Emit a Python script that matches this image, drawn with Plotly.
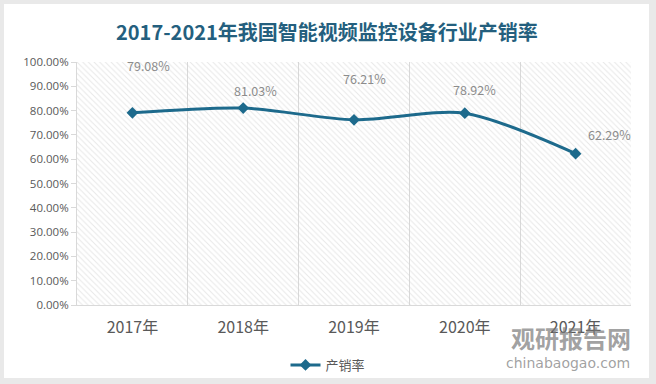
import plotly.graph_objects as go

years = ["2017年", "2018年", "2019年", "2020年", "2021年"]
rate = [79.08, 81.03, 76.21, 78.92, 62.29]
series_name = "产销率"
title_text = "2017-2021年我国智能视频监控设备行业产销率"

# label offsets (pixels) per point
label_dx = [16, 12, 10, 10, 34]
label_dy = [47, 18, 41, 24, 19]

LINE = "#1d6a8c"
FONT = "Noto Sans CJK SC"

fig = go.Figure()

# hatched plot-area background (transparent bars spanning full height)
fig.add_trace(go.Bar(
    x=years, y=[100] * len(years), width=1,
    marker=dict(color="rgba(0,0,0,0)", line=dict(width=0),
                pattern=dict(shape="\\", fgcolor="#d0d0d0", bgcolor="rgba(0,0,0,0)",
                             size=4, solidity=0.25)),
    showlegend=False, hoverinfo="skip"))

fig.add_trace(go.Scatter(
    x=years, y=rate, name=series_name, mode="lines+markers",
    line=dict(color=LINE, width=3, shape="spline", smoothing=0.8),
    marker=dict(symbol="diamond", size=9, color=LINE)))

for yr, v, dx, dy in zip(years, rate, label_dx, label_dy):
    fig.add_annotation(x=yr, y=v, text=f"{v:.2f}%", showarrow=False,
                       xshift=dx, yshift=dy, xanchor="center", yanchor="middle",
                       font=dict(size=12.5, color="#8c8c8c", family=FONT))

L, R, T, B = 77, 25, 62, 79
W, H = 656, 384
pw, ph = W - L - R, H - T - B
# white card over light-gray page
fig.add_shape(type="rect", xref="paper", yref="paper", layer="below",
              x0=(4 - L) / pw, x1=(649 - L) / pw,
              y0=(ph - (378 - T)) / ph, y1=(ph - (4 - T)) / ph,
              fillcolor="white", line=dict(width=0))

fig.add_annotation(xref="paper", yref="paper", x=(327 - L) / pw, y=(ph - (31 - T)) / ph,
                   xanchor="center", yanchor="middle",
                   text="<b>" + title_text + "</b>", showarrow=False,
                   font=dict(size=20, color="#245f7e", family=FONT))

# watermark
fig.add_annotation(xref="paper", yref="paper", x=(571 - L) / pw, y=(ph - (337 - T)) / ph,
                   xanchor="center", yanchor="middle",
                   text="<b>观研报告网</b>", showarrow=False,
                   font=dict(size=24, color="rgba(120,120,120,0.7)", family=FONT))
fig.add_annotation(xref="paper", yref="paper", x=(568 - L) / pw, y=(ph - (363 - T)) / ph,
                   xanchor="center", yanchor="middle",
                   text="chinabaogao.com", showarrow=False,
                   font=dict(size=14, color="rgba(120,120,120,0.7)", family="DejaVu Sans"))

fig.update_layout(
    width=W, height=H,
    margin=dict(l=L, r=R, t=T, b=B, autoexpand=False),
    paper_bgcolor="#e9e9e9", plot_bgcolor="white",
    bargap=0,
    font=dict(family=FONT, color="#595959"),
    showlegend=True,
    legend=dict(orientation="h", x=(328 - L) / pw, xanchor="center",
                y=(ph - (365 - T)) / ph, yanchor="middle",
                font=dict(size=13, color="#595959", family=FONT),
                bgcolor="rgba(0,0,0,0)", itemwidth=30),
    xaxis=dict(type="category", tickson="boundaries", showgrid=True, gridcolor="#d9d9d9",
               gridwidth=1, showline=True, linecolor="#d9d9d9", ticks="", ticklabelstandoff=8,
               tickfont=dict(size=16, color="#595959", family=FONT), range=[-0.5, 4.5]),
    yaxis=dict(range=[0, 100], dtick=10, tickformat=".2f", ticksuffix="%",
               showgrid=False, showline=True, linecolor="#d9d9d9", ticks="outside",
               ticklen=5, tickcolor="#d9d9d9", zeroline=False,
               tickfont=dict(size=11.5, color="#595959", family="Open Sans")),
)

fig.write_html("out.html", config={"displayModeBar": False},
               post_script="document.body.style.margin='0';")
